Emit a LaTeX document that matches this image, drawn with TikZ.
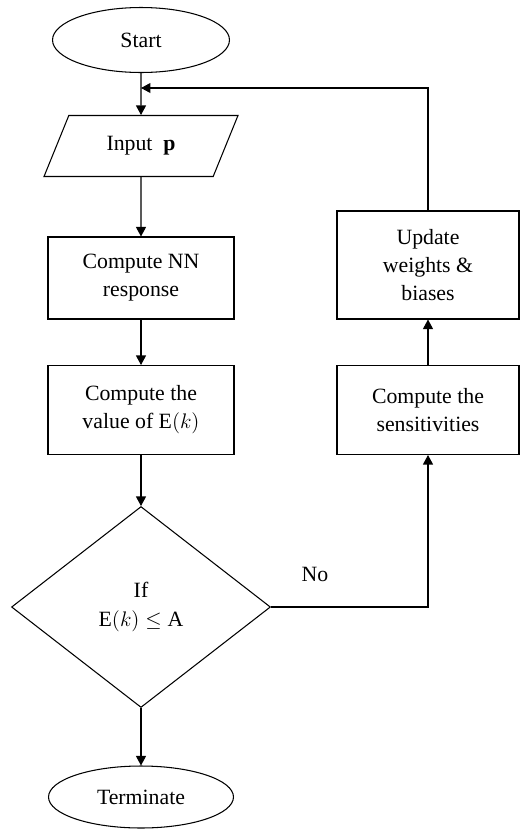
\documentclass[tikz,border=0pt]{standalone}
\usepackage{amsmath, amssymb}
\usepackage{fontspec}
\setmainfont{Liberation Serif}
\usetikzlibrary{shapes.geometric, arrows.meta}

\begin{document}
\begin{tikzpicture}[x=0.02cm, y=-0.02cm, line width=0.6pt,
    font=\fontsize{12.4}{16}\selectfont,
    terminal/.style={draw, ellipse, inner sep=0pt, minimum height=1.3cm},
    io/.style={draw, trapezium, trapezium left angle=51, trapezium right angle=129,
      trapezium stretches body, minimum width=3.88cm, minimum height=1.22cm},
    process/.style={draw, rectangle, align=center, minimum width=3.72cm},
    decision/.style={draw, diamond, align=center, inner sep=0pt, aspect=1.29,
      minimum width=5.18cm, minimum height=4.02cm},
    arr/.style={-{Triangle[length=0.19cm, width=0.2cm]}}]
  \useasboundingbox (0,0) rectangle (530,829);

  % Left column
  \node[terminal, minimum width=3.54cm] (start) at (141,40) {Start};
  \node[io] (input) at (141,146) {Input~~$\mathbf{p}$};
  \node[process, minimum height=1.64cm] (nn) at (141,278) {Compute NN\\response};
  \node[process, minimum height=1.78cm] (value) at (141,410) {Compute the\\value of $\mathrm{E}(k)$};
  \node[decision] (test) at (141,607) {If\\$\mathrm{E}(k) \leq \mathrm{A}$};
  \node[terminal, minimum width=3.7cm, minimum height=1.24cm] (term) at (141,797) {Terminate};

  % Right column
  \node[process, minimum width=3.64cm, minimum height=2.16cm] (update) at (428,265) {Update\\weights \&\\biases};
  \node[process, minimum width=3.64cm, minimum height=1.78cm] (sens) at (428,410) {Compute the\\sensitivities};
  \coordinate (back) at (141,88);

  % Arrows
  \draw[arr] (start) -- (input);
  \draw[arr] (input) -- (nn);
  \draw[arr] (nn) -- (value);
  \draw[arr] (value) -- (test);
  \draw[arr] (test) -- (term);
  \draw[arr] (test) -| node[above=0.37cm, pos=0.14] {No} (sens);
  \draw[arr] (sens) -- (update);
  \draw[arr] (update) |- (back);
\end{tikzpicture}
\end{document}
